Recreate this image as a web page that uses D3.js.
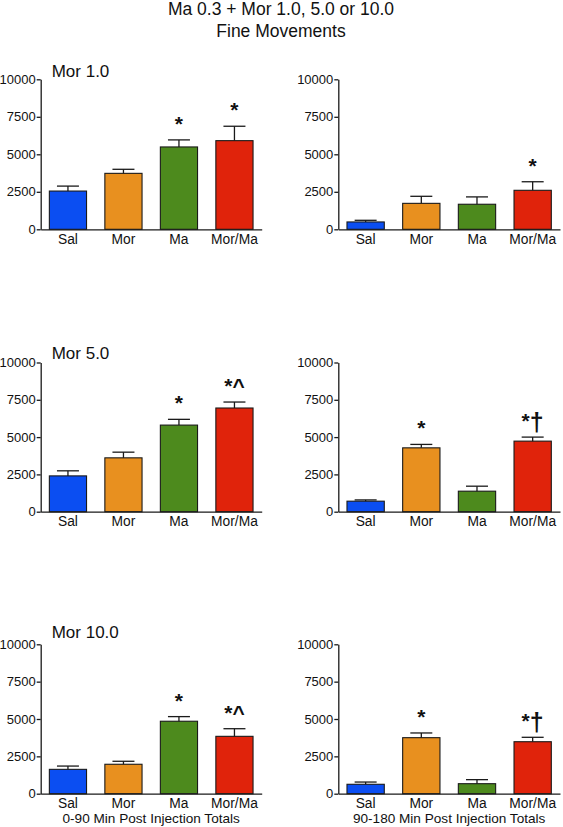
<!DOCTYPE html>
<html>
<head>
<meta charset="utf-8">
<script src="https://cdn.jsdelivr.net/npm/d3@7"></script>
<style>
  html, body { margin: 0; padding: 0; background: #fff; }
  svg { display: block; font-family: "Liberation Sans", Arial, sans-serif; }
</style>
</head>
<body>
<svg id="chart" width="563" height="827"></svg>
<script>
// ---- data ----
const titleLines = ["Ma 0.3 + Mor 1.0, 5.0 or 10.0", "Fine Movements"];
const categories = ["Sal", "Mor", "Ma", "Mor/Ma"];
const colors = ["#0b4ef2", "#e8901f", "#4d8a1d", "#e0230b"];
const doseLabels = ["Mor 1.0", "Mor 5.0", "Mor 10.0"];
const periodLabels = ["0-90 Min Post Injection Totals", "90-180 Min Post Injection Totals"];
const yTicks = [0, 2500, 5000, 7500, 10000];

// 0-90 min totals (mean, SEM)
const early1Mean = [2550, 3730, 5490, 5910];
const early1Sem  = [330, 270, 470, 960];
const early5Mean = [2400, 3610, 5805, 6950];
const early5Sem  = [340, 380, 385, 400];
const early10Mean = [1630, 1970, 4850, 3840];
const early10Sem  = [220, 200, 310, 510];

// 90-180 min totals (mean, SEM)
const late1Mean = [490, 1730, 1670, 2600];
const late1Sem  = [110, 470, 490, 570];
const late5Mean = [705, 4280, 1375, 4730];
const late5Sem  = [85, 230, 335, 270];
const late10Mean = [630, 3750, 670, 3480];
const late10Sem  = [150, 315, 270, 295];

// significance marks
const early1Marks = ["", "", "*", "*"];
const early5Marks = ["", "", "*", "*^"];
const early10Marks = ["", "", "*", "*^"];
const late1Marks = ["", "", "", "*"];
const late5Marks = ["", "*", "", "*\u2020"];
const late10Marks = ["", "*", "", "*\u2020"];

// ---- layout ----
const rowY = [[229.3, 79.3], [511.7, 362.5], [793.7, 644.3]];
const colX = [[40.7, 261.7], [338.3, 560]];
const doseTitleY = [76.7, 358.5, 637.5];

const panels = [
  {r:0, c:0, mean:early1Mean, sem:early1Sem, marks:early1Marks},
  {r:0, c:1, mean:late1Mean, sem:late1Sem, marks:late1Marks},
  {r:1, c:0, mean:early5Mean, sem:early5Sem, marks:early5Marks},
  {r:1, c:1, mean:late5Mean, sem:late5Sem, marks:late5Marks},
  {r:2, c:0, mean:early10Mean, sem:early10Sem, marks:early10Marks},
  {r:2, c:1, mean:late10Mean, sem:late10Sem, marks:late10Marks}
];

const svg = d3.select("#chart");
const ink = "#1a1a1a";

svg.selectAll("text.title").data(titleLines).enter().append("text")
  .attr("class", "title")
  .attr("x", 281).attr("y", (d, i) => 15 + i * 22)
  .attr("text-anchor", "middle")
  .attr("font-size", 17.5).attr("fill", "#111")
  .text(d => d);

panels.forEach(p => {
  const g = svg.append("g");
  const x = d3.scaleBand().domain(categories).range(colX[p.c])
    .paddingInner(0.33).paddingOuter(0.156);
  const y = d3.scaleLinear().domain([0, 10000]).range(rowY[p.r]);
  const data = categories.map((k, i) => ({k, i, m: p.mean[i], s: p.sem[i], mark: p.marks[i]}));

  // bars
  g.selectAll("rect").data(data).enter().append("rect")
    .attr("x", d => x(d.k)).attr("width", x.bandwidth())
    .attr("y", d => y(d.m)).attr("height", d => y(0) - y(d.m))
    .attr("fill", d => colors[d.i]).attr("stroke", ink).attr("stroke-width", 1.1);

  // error bars (upper only)
  const capW = 22;
  g.selectAll("line.eb").data(data).enter().append("line").attr("class", "eb")
    .attr("x1", d => x(d.k) + x.bandwidth() / 2).attr("x2", d => x(d.k) + x.bandwidth() / 2)
    .attr("y1", d => y(d.m)).attr("y2", d => y(d.m + d.s))
    .attr("stroke", ink).attr("stroke-width", 1.3);
  g.selectAll("line.cap").data(data).enter().append("line").attr("class", "cap")
    .attr("x1", d => x(d.k) + x.bandwidth() / 2 - capW / 2).attr("x2", d => x(d.k) + x.bandwidth() / 2 + capW / 2)
    .attr("y1", d => y(d.m + d.s)).attr("y2", d => y(d.m + d.s))
    .attr("stroke", ink).attr("stroke-width", 1.3);

  // significance marks
  const mk = g.selectAll("text.mk").data(data.filter(d => d.mark)).enter().append("text")
    .attr("class", "mk")
    .attr("x", d => x(d.k) + x.bandwidth() / 2)
    .attr("y", d => y(d.m + d.s) - 9)
    .attr("text-anchor", "middle")
    .attr("font-size", 21).attr("font-weight", "bold").attr("fill", "#111");
  mk.each(function(d) {
    const t = d3.select(this);
    if (d.mark.includes("\u2020")) {
      t.append("tspan").text("*");
      t.append("tspan").attr("font-size", 25).attr("dy", 3).text("\u2020");
    } else {
      t.text(d.mark);
    }
  });

  // axes
  const ya = d3.axisLeft(y).tickValues(yTicks).tickFormat(d3.format("d"))
    .tickSize(4).tickPadding(1).tickSizeOuter(0);
  const yg = g.append("g").attr("transform", `translate(${colX[p.c][0]},0)`).call(ya);
  yg.selectAll("text").attr("font-size", 13).attr("fill", "#111");
  yg.selectAll("line, path").attr("stroke", ink).attr("stroke-width", 1.3);

  const xa = d3.axisBottom(x).tickSize(0).tickPadding(5).tickSizeOuter(0);
  const xg = g.append("g").attr("transform", `translate(0,${rowY[p.r][0]})`).call(xa);
  xg.selectAll("text").attr("font-size", 13.8).attr("fill", "#111");
  xg.selectAll("path").attr("stroke", ink).attr("stroke-width", 1.3);
  svg.selectAll("g").attr("font-family", null);

  if (p.c === 0) {
    g.append("text").attr("x", 51.7).attr("y", doseTitleY[p.r])
      .attr("font-size", 17).attr("fill", "#111").text(doseLabels[p.r]);
  }
  if (p.r === 2) {
    g.append("text").attr("x", (colX[p.c][0] + colX[p.c][1]) / 2).attr("y", 823)
      .attr("text-anchor", "middle").attr("font-size", 13.6).attr("fill", "#111")
      .text(periodLabels[p.c]);
  }
});
</script>
</body>
</html>
